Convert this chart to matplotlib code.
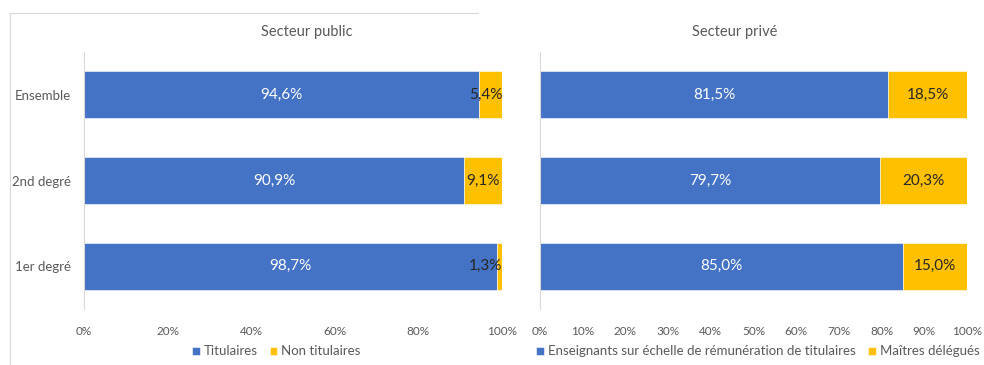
import matplotlib.pyplot as plt
from matplotlib.lines import Line2D

plt.rcParams['font.family'] = ['Lato', 'DejaVu Sans']

categories = ['1er degré', '2nd degré', 'Ensemble']

public_titulaires = [98.7, 90.9, 94.6]
public_non_titulaires = [1.3, 9.1, 5.4]

prive_echelle = [85.0, 79.7, 81.5]
prive_delegues = [15.0, 20.3, 18.5]

blue = '#4472C4'
gold = '#FFC000'
grey_txt = '#595959'


def fmt(v):
    return f"{v:.1f}".replace('.', ',') + '%'


fig = plt.figure(figsize=(9.84, 3.65), dpi=100)
W, H = 984, 365


def make_ax(x0, x1):
    top, bottom = 52, 309
    return fig.add_axes([x0 / W, (H - bottom) / H, (x1 - x0) / W, (bottom - top) / H])


def draw(ax, a, b, step, names, show_y, legend_x):
    y = range(len(categories))
    ax.barh(y, a, height=0.55, color=blue, edgecolor='white', linewidth=0.4, label=names[0])
    ax.barh(y, b, left=a, height=0.55, color=gold, edgecolor='white', linewidth=0.4, label=names[1])
    for i in y:
        ax.text(a[i] / 2, i, fmt(a[i]), ha='center', va='center', color='white', fontsize=11)
        if b[i] < 8:
            ax.text(100, i, fmt(b[i]), ha='right', va='center', color='#262626', fontsize=11)
        else:
            ax.text(a[i] + b[i] / 2, i, fmt(b[i]), ha='center', va='center', color='#262626', fontsize=11)
    ax.set_xlim(0, 100)
    ax.set_ylim(-0.5, 2.5)
    ticks = list(range(0, 101, step))
    ax.set_xticks(ticks)
    ax.set_xticklabels([f"{t}%" for t in ticks])
    ax.set_yticks(list(y))
    if show_y:
        ax.set_yticklabels(categories)
    else:
        ax.set_yticklabels([])
    ax.tick_params(length=0, labelsize=8.5, labelcolor=grey_txt)
    ax.tick_params(axis='x', pad=12)
    ax.tick_params(axis='y', pad=9.5, labelsize=9.5)
    for s in ['top', 'right', 'bottom']:
        ax.spines[s].set_visible(False)
    ax.spines['left'].set_color('#D9D9D9')
    ax.legend(loc='center', bbox_to_anchor=(legend_x, -0.165), ncol=2, frameon=False,
              handlelength=0.6, handleheight=0.6, handletextpad=0.3, columnspacing=0.9,
              fontsize=9.5, labelcolor=grey_txt)


ax1 = make_ax(84, 502)
draw(ax1, public_titulaires, public_non_titulaires, 20,
     ['Titulaires', 'Non titulaires'], True, 0.46)

ax2 = make_ax(540, 967)
draw(ax2, prive_echelle, prive_delegues, 10,
     ['Enseignants sur échelle de rémunération de titulaires', 'Maîtres délégués'], False, 0.51)

fig.text(307 / W, 1 - 32 / H, 'Secteur public', ha='center', va='center', fontsize=10.5, color=grey_txt)
fig.text(735 / W, 1 - 32 / H, 'Secteur privé', ha='center', va='center', fontsize=10.5, color=grey_txt)

# bordure du graphique de gauche
fig.add_artist(Line2D([10 / W, 478 / W], [1 - 13 / H, 1 - 13 / H], color='#D9D9D9', lw=0.8))
fig.add_artist(Line2D([10 / W, 10 / W], [1 - 13 / H, 0], color='#D9D9D9', lw=0.8))

fig.savefig('out.png', dpi=100)
